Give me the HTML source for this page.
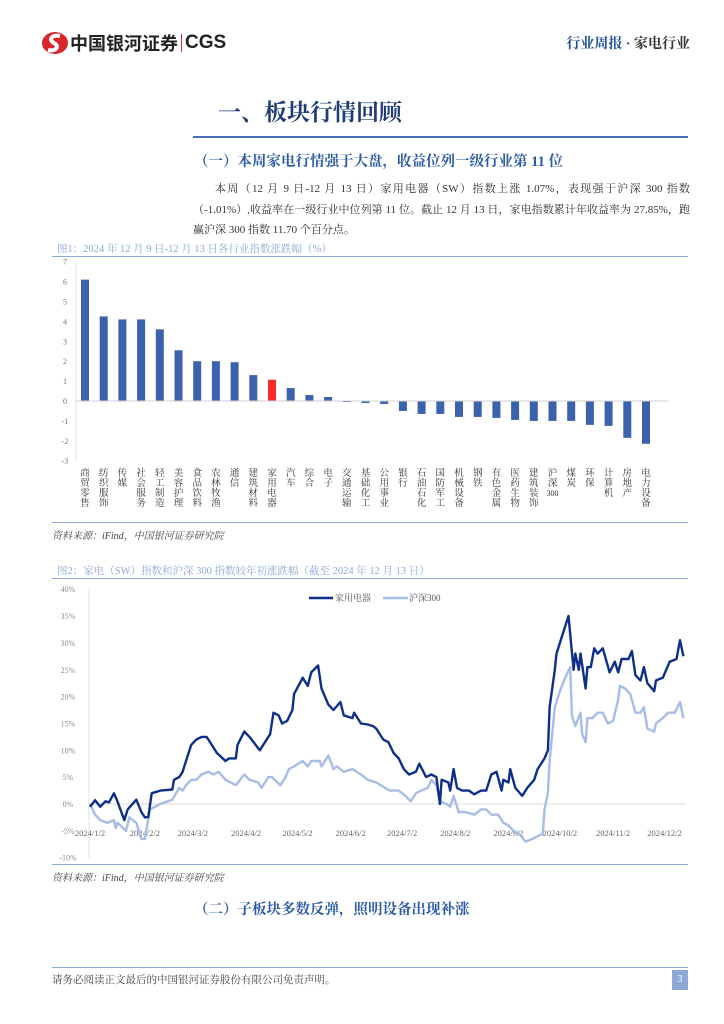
<!DOCTYPE html>
<html><head><meta charset="utf-8">
<style>
body{margin:0;width:724px;height:1024px;background:#fff;position:relative;overflow:hidden;font-family:"Liberation Serif","Noto Serif CJK SC",serif;}
.abs{position:absolute;white-space:nowrap;}
</style></head>
<body>
<div class="abs" style="left:40px;top:30px;height:26px;">
<svg width="30" height="26" style="vertical-align:middle"><ellipse cx="15" cy="13" rx="13" ry="11" fill="#d8262b"/><path d="M20 6 C12 4 8 10 14 13 C20 16 16 22 8 20" stroke="#fff" stroke-width="4" fill="none"/></svg><span style="font-family:'Liberation Sans','Noto Sans CJK SC',sans-serif;font-weight:bold;font-size:18px;color:#222;vertical-align:middle;">中国银河证券</span><span style="display:inline-block;width:1px;height:18px;background:#c33;margin:0 3px;vertical-align:middle"></span><span style="font-family:'Liberation Sans',sans-serif;font-weight:bold;font-size:19px;color:#222;vertical-align:middle;">CGS</span>
</div>
<div class="abs" style="right:34px;top:33px;font-size:14px;font-weight:bold;color:#1f4e9c;">行业周报 · <span style="color:#333">家电行业</span></div>

<div class="abs" style="left:218px;top:94px;font-size:23px;font-weight:bold;color:#1f3c7a;">一、板块行情回顾</div>
<div class="abs" style="left:193px;top:136px;width:495px;height:2px;background:#4a72b8;"></div>
<div class="abs" style="left:194px;top:150px;font-size:14.5px;font-weight:bold;color:#2a5aa8;">（一）本周家电行情强于大盘，收益位列一级行业第 11 位</div>
<div class="abs" style="left:193px;top:179px;width:497px;font-size:11px;color:#333;line-height:20.5px;white-space:normal;text-align:justify;text-indent:22px;">本周（12 月 9 日-12 月 13 日）家用电器（SW）指数上涨 1.07%，表现强于沪深 300 指数（-1.01%）,收益率在一级行业中位列第 11 位。截止 12 月 13 日，家电指数累计年收益率为 27.85%，跑赢沪深 300 指数 11.70 个百分点。</div>

<div class="abs" style="left:57px;top:241px;font-size:10.5px;color:#8ea9d8;">图1：2024 年 12 月 9 日-12 月 13 日各行业指数涨跌幅（%）</div>
<div class="abs" style="left:52px;top:256px;width:636px;height:1px;background:#8ea9d8;"></div>
<div class="abs" style="left:52px;top:522px;width:636px;height:1px;background:#8ea9d8;"></div>
<div class="abs" style="left:52px;top:527px;font-size:10px;font-style:italic;color:#444;">资料来源：iFind，中国银河证券研究院</div>

<div class="abs" style="left:57px;top:563px;font-size:10.5px;color:#8ea9d8;">图2：家电（SW）指数和沪深 300 指数较年初涨跌幅（截至 2024 年 12 月 13 日）</div>
<div class="abs" style="left:52px;top:578px;width:636px;height:1px;background:#8ea9d8;"></div>
<div class="abs" style="left:52px;top:864px;width:636px;height:1px;background:#8ea9d8;"></div>
<div class="abs" style="left:52px;top:869px;font-size:10px;font-style:italic;color:#444;">资料来源：iFind，中国银河证券研究院</div>

<div class="abs" style="left:194px;top:898px;font-size:14.5px;font-weight:bold;color:#2a5aa8;">（二）子板块多数反弹，照明设备出现补涨</div>

<div class="abs" style="left:52px;top:967px;width:636px;height:1px;background:#8ea9d8;"></div>
<div class="abs" style="left:52px;top:972px;font-size:10.5px;color:#444;">请务必阅读正文最后的中国银河证券股份有限公司免责声明。</div>
<div class="abs" style="left:672px;top:970px;width:16px;height:20px;background:#8ea9d8;color:#fff;font-size:10px;text-align:center;line-height:20px;">3</div>

<svg id="chart" width="724" height="1024" style="position:absolute;left:0;top:0"></svg>
<script>
const barCategories=["商贸零售","纺织服饰","传媒","社会服务","轻工制造","美容护理","食品饮料","农林牧渔","通信","建筑材料","家用电器","汽车","综合","电子","交通运输","基础化工","公用事业","银行","石油石化","国防军工","机械设备","钢铁","有色金属","医药生物","建筑装饰","沪深300","煤炭","环保","计算机","房地产","电力设备"];
const barValues=[6.1,4.25,4.1,4.1,3.6,2.55,2.0,2.0,1.95,1.3,1.07,0.65,0.3,0.2,-0.05,-0.1,-0.15,-0.5,-0.65,-0.65,-0.8,-0.8,-0.85,-0.95,-1.0,-1.0,-1.0,-1.2,-1.25,-1.85,-2.15];
const barTicks=[7,6,5,4,3,2,1,0,-1,-2,-3];

const lineTickLabels=["40%","35%","30%","25%","20%","15%","10%","5%","0%","-5%","-10%"];
const lineTickValues=[40,35,30,25,20,15,10,5,0,-5,-10];
const dateLabels=["2024/1/2","2024/2/2","2024/3/2","2024/4/2","2024/5/2","2024/6/2","2024/7/2","2024/8/2","2024/9/2","2024/10/2","2024/11/2","2024/12/2"];
const dateLabelDays=[1,33,61,92,122,153,183,214,245,275,306,336];
const jdDays=[1,4,7,10,12,15,17,21,23,28,31,33,35,37,42,49,50,53,55,57,60,63,66,69,72,75,80,82,86,87,91,94,100,104,106,108,111,113,116,119,120,125,128,130,134,136,140,143,147,149,154,155,159,163,166,168,172,175,178,181,184,187,191,193,197,200,203,205,206,210,211,213,215,218,222,225,229,232,235,238,241,242,245,246,249,253,256,260,262,266,268,269,272,273,276,280,283,284,286,287,290,291,293,295,297,300,304,307,309,311,315,317,319,322,324,326,330,331,335,339,343,345,347];
const jdValues=[-0.5,0.7,-0.5,0.5,0.3,2,0.5,-3,-1,0.8,-1.5,-2.5,-2.4,2,2.5,2.7,4.5,5,6,8,11,12,12.5,12.5,11,9.5,8,8.5,8.5,11,13.5,12.5,10,12,13,17,16.5,15,15.5,17.5,20.5,23.5,22,24.5,25.8,21.5,18.5,17.5,19,16.5,16,17,15,14.8,14.5,14,12,11.5,9.5,8.5,6.5,5.5,6,7.5,5,5.5,5,0,4.5,4,2.5,6.5,3,2.5,2.5,1.8,2.5,2.5,5.5,6,2.5,4.5,4,6.5,3,1.5,3,4.5,6.5,8.5,10,18,25,28,31,35,25,28,25,28,21.5,25.5,25.5,29,28,29,24.5,26.5,24.5,27,27,28.5,24,23,25.5,22.5,21,23,23.5,26.5,27,30.5,27.5];
const hsDays=[1,4,7,11,15,16,17,22,24,28,31,33,36,42,49,53,55,57,60,63,66,70,73,76,80,86,91,94,99,101,105,107,112,115,117,120,125,128,130,135,136,140,143,145,149,154,159,163,168,173,176,181,185,188,191,194,198,200,203,205,209,211,213,216,220,225,229,232,235,239,242,245,248,251,255,259,262,265,266,268,269,272,275,278,281,282,284,287,288,290,291,294,297,300,303,306,309,310,313,316,319,322,324,326,330,331,335,338,342,345,347];
const hsValues=[0,-2,-3,-3.5,-3,-4.5,-3.5,-5,-2.5,-3.5,-6.5,-6.5,-1,0,0.8,3,2.5,3.5,4.5,4.5,5.5,6,5.5,6,4.5,3.5,5.5,4.5,4,3,5,5,3.5,5,6.5,7,8,7,8,8,7,9,6.5,7,6,6.5,5.5,4.5,4,3,2.5,2.5,1.5,0.5,2,2.5,3,4.5,3.5,0.5,0,-0.5,1.5,-1.5,-1.5,-2,-1,-1,-2,-2,-3.5,-4,-5,-5.5,-7,-6.5,-6,-5.5,-1,2,8,18,21,23.5,25.5,16.5,14.5,17,13,11.5,16,16,17,17,15,15.5,19.5,22,21.5,20.5,17,17,18,14,13.5,15,16,17,17,19,16];

const svg=document.getElementById('chart');
const NS='http://www.w3.org/2000/svg';
function mk(tag,attrs){const e=document.createElementNS(NS,tag);for(const k in attrs)e.setAttribute(k,attrs[k]);svg.appendChild(e);return e;}
const FONT='"Liberation Serif","Noto Serif CJK SC",serif';

// Chart 1
const by=v=>401-v*19.9;
const bx=i=>85+i*18.7;
let e=mk('line',{x1:76,y1:by(7),x2:76,y2:by(-3),stroke:'#e2e2e2'});


barTicks.forEach(t=>{
  const tx=mk('text',{x:65,y:by(t)+3,'text-anchor':'middle','font-size':8,fill:'#777','font-family':FONT});
  tx.textContent=t;
  
  
});
barValues.forEach((v,i)=>{
  const r=mk('rect',{x:bx(i)-4,y:Math.min(by(v),by(0)),width:8,height:Math.abs(by(v)-by(0)),fill:barCategories[i]==='家用电器'?'#ff2b2b':'#3a62ad'});
  
  
  const t=mk('text',{x:bx(i),y:476,'text-anchor':'middle','font-size':9.5,fill:'#333','font-family':FONT});
  
  
  const chars=barCategories[i].replace('300','\u0000').split('');
  chars.forEach((ch,k)=>{const s=document.createElementNS(NS,'tspan');s.setAttribute('x',bx(i));s.setAttribute('dy',k?10:0);s.textContent=ch==='\u0000'?'300':ch;if(ch==='\u0000'){s.setAttribute('font-size',8);}t.appendChild(s);});
});
e=mk('line',{x1:76,y1:by(0),x2:668,y2:by(0),stroke:'#d0d0d0'});



// Chart 2
const ly=v=>804-v*5.37;
const lx=d=>90+(d-1)*1.715;
e=mk('line',{x1:89,y1:ly(40),x2:89,y2:ly(-10),stroke:'#e2e2e2'});


lineTickValues.forEach((v,i)=>{
  const t=mk('text',{x:68,y:ly(v)+3,'text-anchor':'middle','font-size':8,fill:'#888','font-family':FONT});
  t.textContent=lineTickLabels[i];
  
  
});
e=mk('line',{x1:89,y1:ly(0),x2:685,y2:ly(0),stroke:'#d8d8d8'});


dateLabels.forEach((d,i)=>{
  const t=mk('text',{x:lx(dateLabelDays[i]),y:836,'text-anchor':'middle','font-size':8.5,fill:'#666','font-family':FONT});
  t.textContent=d;
  
  
});
function path(days,vals){return days.map((d,i)=>(i?'L':'M')+lx(d).toFixed(1)+' '+ly(vals[i]).toFixed(1)).join(' ');}
e=mk('path',{d:path(hsDays,hsValues),fill:'none',stroke:'#a7bde6','stroke-width':2.4,'stroke-linejoin':'round'});


e=mk('path',{d:path(jdDays,jdValues),fill:'none',stroke:'#0d2f8a','stroke-width':2.4,'stroke-linejoin':'round'});


// legend
e=mk('line',{x1:309,y1:598,x2:333,y2:598,stroke:'#0d2f8a','stroke-width':2.5});


e=mk('text',{x:335,y:601,'font-size':9,fill:'#555','font-family':FONT});e.textContent='家用电器';


e=mk('line',{x1:383,y1:598,x2:408,y2:598,stroke:'#a7bde6','stroke-width':2.5});


e=mk('text',{x:409,y:601,'font-size':9,fill:'#555','font-family':FONT});e.textContent='沪深300';


</script>
</body></html>
